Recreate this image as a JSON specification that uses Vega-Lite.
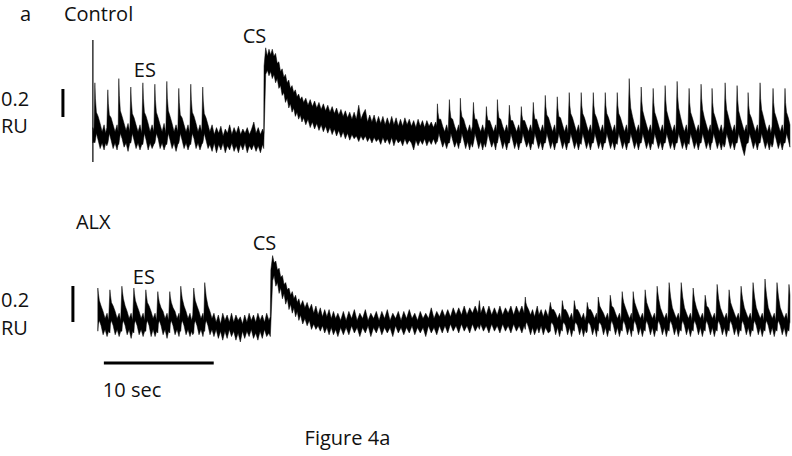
{
"$schema":"https://vega.github.io/schema/vega-lite/v6.json",
"width":792,"height":456,
"autosize":{"type":"fit","contains":"padding"},
"padding":0,
"background":"white",
"config":{"view":{"stroke":null},"text":{"font":"Open Sans","fontSize":20,"color":"#111111"}},
"datasets":{
"top":[
{"t":0,"hi":0.06,"lo":-0.05},{"t":0.1,"hi":0.03,"lo":-0.04},
{"t":0.18,"hi":0.38,"lo":-0.05},{"t":0.23,"hi":0.27,"lo":-0.03},{"t":0.32,"hi":0.17,"lo":0.02},{"t":0.48,"hi":0.14,"lo":-0.03},{"t":0.66,"hi":0.09,"lo":-0.09},{"t":0.84,"hi":0.03,"lo":-0.05},{"t":1.02,"hi":0.08,"lo":-0.1},{"t":1.16,"hi":0.02,"lo":-0.05},{"t":1.27,"hi":0.06,"lo":-0.07},
{"t":1.36,"hi":0.33,"lo":-0.05},{"t":1.41,"hi":0.23,"lo":-0.03},{"t":1.5,"hi":0.15,"lo":0.02},{"t":1.66,"hi":0.13,"lo":-0.03},{"t":1.84,"hi":0.08,"lo":-0.09},{"t":2.02,"hi":0.03,"lo":-0.05},{"t":2.2,"hi":0.08,"lo":-0.1},{"t":2.3,"hi":0.03,"lo":-0.06},
{"t":2.36,"hi":0.41,"lo":-0.06},{"t":2.41,"hi":0.29,"lo":-0.03},{"t":2.5,"hi":0.18,"lo":0.02},{"t":2.66,"hi":0.14,"lo":-0.02},{"t":2.84,"hi":0.09,"lo":-0.08},{"t":3.02,"hi":0.04,"lo":-0.05},{"t":3.2,"hi":0.09,"lo":-0.11},{"t":3.36,"hi":0.03,"lo":-0.05},
{"t":3.45,"hi":0.35,"lo":-0.05},{"t":3.5,"hi":0.25,"lo":-0.03},{"t":3.59,"hi":0.16,"lo":0.02},{"t":3.75,"hi":0.13,"lo":-0.03},{"t":3.93,"hi":0.08,"lo":-0.09},{"t":4.11,"hi":0.03,"lo":-0.05},{"t":4.29,"hi":0.08,"lo":-0.1},{"t":4.45,"hi":0.02,"lo":-0.06},
{"t":4.55,"hi":0.38,"lo":-0.06},{"t":4.6,"hi":0.27,"lo":-0.03},{"t":4.69,"hi":0.17,"lo":0.02},{"t":4.85,"hi":0.14,"lo":-0.03},{"t":5.03,"hi":0.09,"lo":-0.1},{"t":5.21,"hi":0.03,"lo":-0.05},{"t":5.39,"hi":0.08,"lo":-0.09},{"t":5.55,"hi":0.03,"lo":-0.06},
{"t":5.64,"hi":0.37,"lo":-0.05},{"t":5.69,"hi":0.26,"lo":-0.03},{"t":5.78,"hi":0.17,"lo":0.02},{"t":5.94,"hi":0.13,"lo":-0.02},{"t":6.12,"hi":0.08,"lo":-0.09},{"t":6.3,"hi":0.03,"lo":-0.05},{"t":6.48,"hi":0.09,"lo":-0.1},{"t":6.64,"hi":0.02,"lo":-0.06},
{"t":6.73,"hi":0.39,"lo":-0.06},{"t":6.78,"hi":0.27,"lo":-0.03},{"t":6.87,"hi":0.18,"lo":0.02},{"t":7.03,"hi":0.14,"lo":-0.03},{"t":7.21,"hi":0.09,"lo":-0.09},{"t":7.39,"hi":0.03,"lo":-0.05},{"t":7.57,"hi":0.08,"lo":-0.11},{"t":7.73,"hi":0.03,"lo":-0.06},
{"t":7.82,"hi":0.34,"lo":-0.05},{"t":7.87,"hi":0.24,"lo":-0.03},{"t":7.96,"hi":0.15,"lo":0.02},{"t":8.12,"hi":0.13,"lo":-0.03},{"t":8.3,"hi":0.08,"lo":-0.09},{"t":8.48,"hi":0.03,"lo":-0.05},{"t":8.66,"hi":0.08,"lo":-0.1},{"t":8.82,"hi":0.02,"lo":-0.06},
{"t":8.91,"hi":0.37,"lo":-0.06},{"t":8.96,"hi":0.26,"lo":-0.03},{"t":9.05,"hi":0.17,"lo":0.02},{"t":9.21,"hi":0.14,"lo":-0.02},{"t":9.39,"hi":0.09,"lo":-0.09},{"t":9.57,"hi":0.03,"lo":-0.05},{"t":9.75,"hi":0.08,"lo":-0.1},{"t":9.91,"hi":0.03,"lo":-0.06},
{"t":10,"hi":0.35,"lo":-0.05},{"t":10.05,"hi":0.25,"lo":-0.03},{"t":10.14,"hi":0.16,"lo":0.02},{"t":10.3,"hi":0.13,"lo":-0.03},{"t":10.48,"hi":0.08,"lo":-0.09},
{"t":10.65,"hi":0.03,"lo":-0.06},{"t":10.85,"hi":0.08,"lo":-0.11},{"t":11.05,"hi":0.01,"lo":-0.05},{"t":11.25,"hi":0.06,"lo":-0.12},{"t":11.45,"hi":0.02,"lo":-0.06},{"t":11.65,"hi":0.07,"lo":-0.1},{"t":11.85,"hi":0,"lo":-0.05},{"t":12.05,"hi":0.05,"lo":-0.12},{"t":12.25,"hi":0.02,"lo":-0.07},{"t":12.45,"hi":0.08,"lo":-0.1},{"t":12.65,"hi":0.01,"lo":-0.05},{"t":12.85,"hi":0.06,"lo":-0.11},{"t":13.05,"hi":0.02,"lo":-0.07},{"t":13.25,"hi":0.07,"lo":-0.12},{"t":13.45,"hi":0.01,"lo":-0.06},{"t":13.65,"hi":0.05,"lo":-0.1},{"t":13.85,"hi":0.02,"lo":-0.05},{"t":14.05,"hi":0.06,"lo":-0.12},{"t":14.25,"hi":0.01,"lo":-0.07},{"t":14.45,"hi":0.05,"lo":-0.1},{"t":14.65,"hi":0.1,"lo":-0.06},{"t":14.85,"hi":0.02,"lo":-0.11},{"t":15.05,"hi":0.06,"lo":-0.07},{"t":15.25,"hi":0.01,"lo":-0.12},{"t":15.45,"hi":0.05,"lo":-0.06},{"t":15.55,"hi":0.02,"lo":-0.09},
{"t":15.58,"hi":0.5,"lo":0},{"t":15.73,"hi":0.63,"lo":0.44},{"t":15.88,"hi":0.57,"lo":0.47},{"t":16.03,"hi":0.62,"lo":0.43},{"t":16.18,"hi":0.58,"lo":0.46},{"t":16.33,"hi":0.62,"lo":0.41},{"t":16.48,"hi":0.57,"lo":0.44},{"t":16.63,"hi":0.59,"lo":0.38},{"t":16.78,"hi":0.52,"lo":0.41},{"t":16.93,"hi":0.53,"lo":0.34},{"t":17.08,"hi":0.46,"lo":0.36},{"t":17.23,"hi":0.48,"lo":0.29},{"t":17.38,"hi":0.42,"lo":0.31},{"t":17.53,"hi":0.44,"lo":0.24},{"t":17.68,"hi":0.38,"lo":0.27},{"t":17.83,"hi":0.4,"lo":0.2},{"t":17.98,"hi":0.34,"lo":0.23},{"t":18.13,"hi":0.36,"lo":0.17},{"t":18.28,"hi":0.31,"lo":0.2},{"t":18.43,"hi":0.33,"lo":0.14},{"t":18.58,"hi":0.28,"lo":0.17},{"t":18.73,"hi":0.3,"lo":0.12},{"t":18.88,"hi":0.26,"lo":0.15},{"t":19.03,"hi":0.28,"lo":0.1},{"t":19.18,"hi":0.24,"lo":0.13},{"t":19.38,"hi":0.27,"lo":0.08},{"t":19.58,"hi":0.22,"lo":0.12},{"t":19.78,"hi":0.26,"lo":0.06},{"t":19.98,"hi":0.21,"lo":0.1},{"t":20.18,"hi":0.25,"lo":0.05},{"t":20.38,"hi":0.2,"lo":0.09},{"t":20.58,"hi":0.24,"lo":0.04},{"t":20.78,"hi":0.19,"lo":0.08},{"t":20.98,"hi":0.23,"lo":0.03},{"t":21.18,"hi":0.18,"lo":0.07},{"t":21.38,"hi":0.22,"lo":0.02},{"t":21.58,"hi":0.17,"lo":0.06},{"t":21.78,"hi":0.21,"lo":0.01},{"t":21.98,"hi":0.16,"lo":0.05},{"t":22.18,"hi":0.2,"lo":0},{"t":22.38,"hi":0.15,"lo":0.04},{"t":22.58,"hi":0.19,"lo":-0.01},{"t":22.78,"hi":0.14,"lo":0.03},{"t":22.98,"hi":0.18,"lo":-0.02},{"t":23.18,"hi":0.13,"lo":0.02},{"t":23.38,"hi":0.17,"lo":-0.03},{"t":23.58,"hi":0.12,"lo":0.01},{"t":23.78,"hi":0.17,"lo":-0.02},{"t":23.98,"hi":0.12,"lo":0},{"t":24.2,"hi":0.22,"lo":-0.04},{"t":24.4,"hi":0.12,"lo":0},{"t":24.6,"hi":0.16,"lo":-0.03},{"t":24.8,"hi":0.19,"lo":0},{"t":25,"hi":0.1,"lo":-0.04},{"t":25.2,"hi":0.15,"lo":-0.01},{"t":25.4,"hi":0.1,"lo":-0.05},{"t":25.6,"hi":0.15,"lo":-0.01},{"t":25.8,"hi":0.09,"lo":-0.04},{"t":26,"hi":0.14,"lo":-0.02},{"t":26.2,"hi":0.09,"lo":-0.06},{"t":26.4,"hi":0.14,"lo":-0.01},{"t":26.6,"hi":0.08,"lo":-0.05},{"t":26.8,"hi":0.13,"lo":-0.02},{"t":27,"hi":0.08,"lo":-0.06},{"t":27.2,"hi":0.14,"lo":-0.01},{"t":27.4,"hi":0.08,"lo":-0.07},{"t":27.6,"hi":0.13,"lo":-0.02},{"t":27.8,"hi":0.07,"lo":-0.05},{"t":28,"hi":0.12,"lo":-0.03},{"t":28.2,"hi":0.07,"lo":-0.07},{"t":28.4,"hi":0.13,"lo":-0.02},{"t":28.6,"hi":0.08,"lo":-0.06},{"t":28.8,"hi":0.12,"lo":-0.03},{"t":29,"hi":0.07,"lo":-0.05},{"t":29.2,"hi":0.11,"lo":-0.1},{"t":29.4,"hi":0.06,"lo":-0.03},{"t":29.6,"hi":0.12,"lo":-0.07},{"t":29.8,"hi":0.07,"lo":-0.03},{"t":30,"hi":0.11,"lo":-0.06},{"t":30.2,"hi":0.06,"lo":-0.02},{"t":30.4,"hi":0.11,"lo":-0.07},{"t":30.6,"hi":0.07,"lo":-0.03},{"t":30.8,"hi":0.1,"lo":-0.06},{"t":31,"hi":0.06,"lo":-0.02},{"t":31.2,"hi":0.1,"lo":-0.06},{"t":31.3,"hi":0.07,"lo":-0.04},
{"t":31.36,"hi":0.23,"lo":-0.04},{"t":31.41,"hi":0.17,"lo":-0.02},{"t":31.5,"hi":0.12,"lo":0.02},{"t":31.66,"hi":0.12,"lo":-0.03},{"t":31.84,"hi":0.07,"lo":-0.08},{"t":32.02,"hi":0.03,"lo":-0.04},{"t":32.2,"hi":0.08,"lo":-0.09},{"t":32.34,"hi":0.03,"lo":-0.05},
{"t":32.45,"hi":0.26,"lo":-0.05},{"t":32.5,"hi":0.19,"lo":-0.03},{"t":32.59,"hi":0.13,"lo":0.02},{"t":32.75,"hi":0.12,"lo":-0.03},{"t":32.93,"hi":0.07,"lo":-0.08},{"t":33.11,"hi":0.03,"lo":-0.04},{"t":33.29,"hi":0.08,"lo":-0.09},{"t":33.38,"hi":0.03,"lo":-0.05},
{"t":33.45,"hi":0.27,"lo":-0.05},{"t":33.5,"hi":0.19,"lo":-0.03},{"t":33.59,"hi":0.14,"lo":0.02},{"t":33.75,"hi":0.12,"lo":-0.03},{"t":33.93,"hi":0.07,"lo":-0.09},{"t":34.11,"hi":0.03,"lo":-0.04},{"t":34.29,"hi":0.08,"lo":-0.1},{"t":34.43,"hi":0.03,"lo":-0.05},{"t":34.55,"hi":0.07,"lo":-0.08},
{"t":34.64,"hi":0.24,"lo":-0.05},{"t":34.69,"hi":0.17,"lo":-0.03},{"t":34.78,"hi":0.12,"lo":0.02},{"t":34.94,"hi":0.12,"lo":-0.03},{"t":35.12,"hi":0.07,"lo":-0.09},{"t":35.3,"hi":0.03,"lo":-0.04},{"t":35.48,"hi":0.08,"lo":-0.1},{"t":35.62,"hi":0.03,"lo":-0.05},{"t":35.74,"hi":0.07,"lo":-0.08},
{"t":35.82,"hi":0.21,"lo":-0.05},{"t":35.87,"hi":0.15,"lo":-0.03},{"t":35.96,"hi":0.11,"lo":0.02},{"t":36.12,"hi":0.11,"lo":-0.03},{"t":36.3,"hi":0.07,"lo":-0.08},{"t":36.48,"hi":0.03,"lo":-0.04},{"t":36.66,"hi":0.08,"lo":-0.1},{"t":36.76,"hi":0.03,"lo":-0.05},
{"t":36.82,"hi":0.26,"lo":-0.05},{"t":36.87,"hi":0.19,"lo":-0.03},{"t":36.96,"hi":0.13,"lo":0.02},{"t":37.12,"hi":0.12,"lo":-0.03},{"t":37.3,"hi":0.07,"lo":-0.09},{"t":37.48,"hi":0.03,"lo":-0.04},{"t":37.66,"hi":0.08,"lo":-0.1},{"t":37.8,"hi":0.03,"lo":-0.05},
{"t":37.91,"hi":0.22,"lo":-0.05},{"t":37.96,"hi":0.16,"lo":-0.03},{"t":38.05,"hi":0.11,"lo":0.02},{"t":38.21,"hi":0.11,"lo":-0.03},{"t":38.39,"hi":0.07,"lo":-0.09},{"t":38.57,"hi":0.03,"lo":-0.04},{"t":38.75,"hi":0.08,"lo":-0.1},{"t":38.89,"hi":0.03,"lo":-0.05},
{"t":39,"hi":0.21,"lo":-0.05},{"t":39.05,"hi":0.15,"lo":-0.03},{"t":39.14,"hi":0.11,"lo":0.02},{"t":39.3,"hi":0.11,"lo":-0.03},{"t":39.48,"hi":0.07,"lo":-0.08},{"t":39.66,"hi":0.03,"lo":-0.04},{"t":39.84,"hi":0.08,"lo":-0.1},{"t":39.98,"hi":0.03,"lo":-0.05},
{"t":40.09,"hi":0.24,"lo":-0.06},{"t":40.14,"hi":0.17,"lo":-0.03},{"t":40.23,"hi":0.12,"lo":0.02},{"t":40.39,"hi":0.12,"lo":-0.03},{"t":40.57,"hi":0.07,"lo":-0.09},{"t":40.75,"hi":0.03,"lo":-0.04},{"t":40.93,"hi":0.08,"lo":-0.1},{"t":41.07,"hi":0.03,"lo":-0.05},
{"t":41.18,"hi":0.29,"lo":-0.05},{"t":41.23,"hi":0.21,"lo":-0.03},{"t":41.32,"hi":0.15,"lo":0.02},{"t":41.48,"hi":0.13,"lo":-0.03},{"t":41.66,"hi":0.08,"lo":-0.09},{"t":41.84,"hi":0.03,"lo":-0.04},{"t":42.02,"hi":0.08,"lo":-0.1},{"t":42.16,"hi":0.02,"lo":-0.05},
{"t":42.27,"hi":0.28,"lo":-0.05},{"t":42.32,"hi":0.2,"lo":-0.03},{"t":42.41,"hi":0.14,"lo":0.02},{"t":42.57,"hi":0.13,"lo":-0.03},{"t":42.75,"hi":0.08,"lo":-0.09},{"t":42.93,"hi":0.03,"lo":-0.04},{"t":43.11,"hi":0.08,"lo":-0.1},{"t":43.25,"hi":0.02,"lo":-0.05},
{"t":43.36,"hi":0.31,"lo":-0.05},{"t":43.41,"hi":0.22,"lo":-0.03},{"t":43.5,"hi":0.16,"lo":0.02},{"t":43.66,"hi":0.13,"lo":-0.03},{"t":43.84,"hi":0.08,"lo":-0.09},{"t":44.02,"hi":0.03,"lo":-0.04},{"t":44.2,"hi":0.08,"lo":-0.1},{"t":44.34,"hi":0.02,"lo":-0.05},
{"t":44.45,"hi":0.31,"lo":-0.06},{"t":44.5,"hi":0.22,"lo":-0.03},{"t":44.59,"hi":0.16,"lo":0.02},{"t":44.75,"hi":0.13,"lo":-0.03},{"t":44.93,"hi":0.08,"lo":-0.09},{"t":45.11,"hi":0.03,"lo":-0.04},{"t":45.29,"hi":0.08,"lo":-0.1},{"t":45.43,"hi":0.02,"lo":-0.05},
{"t":45.55,"hi":0.31,"lo":-0.05},{"t":45.6,"hi":0.22,"lo":-0.03},{"t":45.69,"hi":0.16,"lo":0.02},{"t":45.85,"hi":0.13,"lo":-0.03},{"t":46.03,"hi":0.08,"lo":-0.09},{"t":46.21,"hi":0.03,"lo":-0.04},{"t":46.39,"hi":0.08,"lo":-0.1},{"t":46.53,"hi":0.02,"lo":-0.05},
{"t":46.64,"hi":0.31,"lo":-0.05},{"t":46.69,"hi":0.22,"lo":-0.03},{"t":46.78,"hi":0.16,"lo":0.02},{"t":46.94,"hi":0.13,"lo":-0.03},{"t":47.12,"hi":0.08,"lo":-0.09},{"t":47.3,"hi":0.03,"lo":-0.04},{"t":47.48,"hi":0.08,"lo":-0.1},{"t":47.62,"hi":0.02,"lo":-0.05},
{"t":47.73,"hi":0.31,"lo":-0.06},{"t":47.78,"hi":0.22,"lo":-0.03},{"t":47.87,"hi":0.16,"lo":0.02},{"t":48.03,"hi":0.13,"lo":-0.03},{"t":48.21,"hi":0.08,"lo":-0.09},{"t":48.39,"hi":0.03,"lo":-0.04},{"t":48.57,"hi":0.08,"lo":-0.1},{"t":48.71,"hi":0.02,"lo":-0.05},
{"t":48.82,"hi":0.41,"lo":-0.05},{"t":48.87,"hi":0.3,"lo":-0.03},{"t":48.96,"hi":0.2,"lo":0.02},{"t":49.12,"hi":0.14,"lo":-0.03},{"t":49.3,"hi":0.08,"lo":-0.09},{"t":49.48,"hi":0.03,"lo":-0.04},{"t":49.66,"hi":0.08,"lo":-0.1},{"t":49.8,"hi":0.02,"lo":-0.05},
{"t":49.91,"hi":0.35,"lo":-0.05},{"t":49.96,"hi":0.25,"lo":-0.03},{"t":50.05,"hi":0.18,"lo":0.02},{"t":50.21,"hi":0.13,"lo":-0.03},{"t":50.39,"hi":0.08,"lo":-0.09},{"t":50.57,"hi":0.03,"lo":-0.04},{"t":50.75,"hi":0.08,"lo":-0.1},{"t":50.89,"hi":0.02,"lo":-0.05},
{"t":51,"hi":0.34,"lo":-0.06},{"t":51.05,"hi":0.24,"lo":-0.03},{"t":51.14,"hi":0.17,"lo":0.02},{"t":51.3,"hi":0.13,"lo":-0.03},{"t":51.48,"hi":0.08,"lo":-0.09},{"t":51.66,"hi":0.03,"lo":-0.04},{"t":51.84,"hi":0.08,"lo":-0.1},{"t":51.98,"hi":0.02,"lo":-0.05},
{"t":52.09,"hi":0.36,"lo":-0.05},{"t":52.14,"hi":0.26,"lo":-0.03},{"t":52.23,"hi":0.18,"lo":0.02},{"t":52.39,"hi":0.13,"lo":-0.03},{"t":52.57,"hi":0.08,"lo":-0.09},{"t":52.75,"hi":0.03,"lo":-0.04},{"t":52.93,"hi":0.08,"lo":-0.1},{"t":53.07,"hi":0.02,"lo":-0.05},
{"t":53.18,"hi":0.39,"lo":-0.05},{"t":53.23,"hi":0.28,"lo":-0.03},{"t":53.32,"hi":0.2,"lo":0.02},{"t":53.48,"hi":0.14,"lo":-0.03},{"t":53.66,"hi":0.08,"lo":-0.09},{"t":53.84,"hi":0.03,"lo":-0.04},{"t":54.02,"hi":0.08,"lo":-0.1},{"t":54.16,"hi":0.02,"lo":-0.05},
{"t":54.27,"hi":0.34,"lo":-0.06},{"t":54.32,"hi":0.24,"lo":-0.03},{"t":54.41,"hi":0.17,"lo":0.02},{"t":54.57,"hi":0.13,"lo":-0.03},{"t":54.75,"hi":0.08,"lo":-0.09},{"t":54.93,"hi":0.03,"lo":-0.04},{"t":55.11,"hi":0.08,"lo":-0.1},{"t":55.25,"hi":0.02,"lo":-0.05},
{"t":55.36,"hi":0.37,"lo":-0.05},{"t":55.41,"hi":0.27,"lo":-0.03},{"t":55.5,"hi":0.19,"lo":0.02},{"t":55.66,"hi":0.13,"lo":-0.03},{"t":55.84,"hi":0.08,"lo":-0.09},{"t":56.02,"hi":0.03,"lo":-0.04},{"t":56.2,"hi":0.08,"lo":-0.1},{"t":56.3,"hi":0.02,"lo":-0.05},
{"t":56.36,"hi":0.34,"lo":-0.05},{"t":56.41,"hi":0.24,"lo":-0.03},{"t":56.5,"hi":0.17,"lo":0.02},{"t":56.66,"hi":0.13,"lo":-0.03},{"t":56.84,"hi":0.08,"lo":-0.09},{"t":57.02,"hi":0.03,"lo":-0.04},{"t":57.2,"hi":0.08,"lo":-0.1},{"t":57.34,"hi":0.02,"lo":-0.05},{"t":57.46,"hi":0.07,"lo":-0.08},
{"t":57.55,"hi":0.38,"lo":-0.06},{"t":57.6,"hi":0.27,"lo":-0.03},{"t":57.69,"hi":0.19,"lo":0.02},{"t":57.85,"hi":0.14,"lo":-0.03},{"t":58.03,"hi":0.08,"lo":-0.09},{"t":58.21,"hi":0.03,"lo":-0.04},{"t":58.39,"hi":0.08,"lo":-0.1},{"t":58.53,"hi":0.02,"lo":-0.05},
{"t":58.64,"hi":0.36,"lo":-0.05},{"t":58.69,"hi":0.26,"lo":-0.03},{"t":58.78,"hi":0.18,"lo":0.02},{"t":58.94,"hi":0.13,"lo":-0.03},{"t":59.12,"hi":0.08,"lo":-0.09},{"t":59.3,"hi":0.03,"lo":-0.14},{"t":59.48,"hi":0.08,"lo":-0.06},{"t":59.58,"hi":0.02,"lo":-0.05},
{"t":59.64,"hi":0.31,"lo":-0.05},{"t":59.69,"hi":0.22,"lo":-0.03},{"t":59.78,"hi":0.16,"lo":0.02},{"t":59.94,"hi":0.13,"lo":-0.03},{"t":60.12,"hi":0.08,"lo":-0.09},{"t":60.3,"hi":0.03,"lo":-0.04},{"t":60.48,"hi":0.08,"lo":-0.1},{"t":60.62,"hi":0.02,"lo":-0.05},
{"t":60.73,"hi":0.38,"lo":-0.05},{"t":60.78,"hi":0.27,"lo":-0.03},{"t":60.87,"hi":0.19,"lo":0.02},{"t":61.03,"hi":0.14,"lo":-0.03},{"t":61.21,"hi":0.08,"lo":-0.09},{"t":61.39,"hi":0.03,"lo":-0.04},{"t":61.57,"hi":0.08,"lo":-0.1},{"t":61.71,"hi":0.02,"lo":-0.05},{"t":61.82,"hi":0.07,"lo":-0.08},
{"t":61.91,"hi":0.34,"lo":-0.06},{"t":61.96,"hi":0.24,"lo":-0.03},{"t":62.05,"hi":0.17,"lo":0.02},{"t":62.21,"hi":0.13,"lo":-0.03},{"t":62.39,"hi":0.08,"lo":-0.09},{"t":62.57,"hi":0.03,"lo":-0.04},{"t":62.75,"hi":0.08,"lo":-0.1},{"t":62.89,"hi":0.02,"lo":-0.05},
{"t":63,"hi":0.34,"lo":-0.05},{"t":63.05,"hi":0.24,"lo":-0.03},{"t":63.14,"hi":0.17,"lo":0.02},{"t":63.3,"hi":0.13,"lo":-0.03},{"t":63.45,"hi":0.08,"lo":-0.08}
],
"bot":[
{"t":0.45,"hi":0.2,"lo":-0.04},{"t":0.5,"hi":0.17,"lo":0},{"t":0.59,"hi":0.13,"lo":0.02},{"t":0.75,"hi":0.1,"lo":-0.01},{"t":0.93,"hi":0.07,"lo":-0.06},{"t":1.11,"hi":0.03,"lo":-0.03},{"t":1.29,"hi":0.06,"lo":-0.07},{"t":1.43,"hi":0.02,"lo":-0.04},
{"t":1.55,"hi":0.19,"lo":-0.05},{"t":1.6,"hi":0.16,"lo":0},{"t":1.69,"hi":0.12,"lo":0.02},{"t":1.85,"hi":0.1,"lo":-0.01},{"t":2.03,"hi":0.07,"lo":-0.06},{"t":2.21,"hi":0.03,"lo":-0.03},{"t":2.39,"hi":0.06,"lo":-0.07},{"t":2.53,"hi":0.02,"lo":-0.04},
{"t":2.64,"hi":0.21,"lo":-0.04},{"t":2.69,"hi":0.18,"lo":0},{"t":2.78,"hi":0.14,"lo":0.02},{"t":2.94,"hi":0.1,"lo":-0.01},{"t":3.12,"hi":0.07,"lo":-0.06},{"t":3.3,"hi":0.03,"lo":-0.03},{"t":3.48,"hi":0.06,"lo":-0.08},{"t":3.62,"hi":0.02,"lo":-0.04},
{"t":3.73,"hi":0.2,"lo":-0.05},{"t":3.78,"hi":0.17,"lo":0},{"t":3.87,"hi":0.13,"lo":0.02},{"t":4.03,"hi":0.1,"lo":-0.01},{"t":4.21,"hi":0.07,"lo":-0.06},{"t":4.39,"hi":0.03,"lo":-0.03},{"t":4.57,"hi":0.06,"lo":-0.07},{"t":4.71,"hi":0.02,"lo":-0.04},
{"t":4.82,"hi":0.19,"lo":-0.04},{"t":4.87,"hi":0.16,"lo":0},{"t":4.96,"hi":0.12,"lo":0.02},{"t":5.12,"hi":0.1,"lo":-0.01},{"t":5.3,"hi":0.07,"lo":-0.07},{"t":5.48,"hi":0.03,"lo":-0.03},{"t":5.66,"hi":0.06,"lo":-0.07},{"t":5.8,"hi":0.02,"lo":-0.04},
{"t":5.91,"hi":0.18,"lo":-0.05},{"t":5.96,"hi":0.15,"lo":0},{"t":6.05,"hi":0.12,"lo":0.02},{"t":6.21,"hi":0.09,"lo":-0.01},{"t":6.39,"hi":0.07,"lo":-0.06},{"t":6.57,"hi":0.03,"lo":-0.03},{"t":6.75,"hi":0.06,"lo":-0.08},{"t":6.89,"hi":0.02,"lo":-0.04},
{"t":7,"hi":0.18,"lo":-0.05},{"t":7.05,"hi":0.15,"lo":0},{"t":7.14,"hi":0.12,"lo":0.02},{"t":7.3,"hi":0.09,"lo":-0.01},{"t":7.48,"hi":0.07,"lo":-0.06},{"t":7.66,"hi":0.03,"lo":-0.03},{"t":7.84,"hi":0.06,"lo":-0.07},{"t":7.92,"hi":0.02,"lo":-0.04},
{"t":8,"hi":0.21,"lo":-0.04},{"t":8.05,"hi":0.18,"lo":0},{"t":8.14,"hi":0.14,"lo":0.02},{"t":8.3,"hi":0.1,"lo":-0.01},{"t":8.48,"hi":0.07,"lo":-0.06},{"t":8.66,"hi":0.03,"lo":-0.03},{"t":8.84,"hi":0.06,"lo":-0.07},{"t":8.98,"hi":0.02,"lo":-0.04},{"t":9.09,"hi":0.05,"lo":-0.06},
{"t":9.18,"hi":0.2,"lo":-0.05},{"t":9.23,"hi":0.17,"lo":0},{"t":9.32,"hi":0.13,"lo":0.02},{"t":9.48,"hi":0.1,"lo":-0.01},{"t":9.66,"hi":0.07,"lo":-0.06},{"t":9.84,"hi":0.03,"lo":-0.03},{"t":10.02,"hi":0.06,"lo":-0.07},{"t":10.1,"hi":0.02,"lo":-0.04},
{"t":10.18,"hi":0.23,"lo":-0.04},{"t":10.23,"hi":0.2,"lo":0},{"t":10.32,"hi":0.15,"lo":0.02},{"t":10.48,"hi":0.1,"lo":-0.01},{"t":10.66,"hi":0.07,"lo":-0.06},{"t":10.84,"hi":0.03,"lo":-0.03},
{"t":11.02,"hi":0.06,"lo":-0.07},{"t":11.22,"hi":0.01,"lo":-0.03},{"t":11.42,"hi":0.05,"lo":-0.08},{"t":11.62,"hi":0,"lo":-0.04},{"t":11.82,"hi":0.06,"lo":-0.09},{"t":12.02,"hi":0.02,"lo":-0.04},{"t":12.22,"hi":0.05,"lo":-0.08},{"t":12.42,"hi":0.01,"lo":-0.03},{"t":12.62,"hi":0.06,"lo":-0.07},{"t":12.82,"hi":0.01,"lo":-0.04},{"t":13.02,"hi":0.05,"lo":-0.09},{"t":13.22,"hi":0.02,"lo":-0.05},{"t":13.42,"hi":0.04,"lo":-0.1},{"t":13.62,"hi":0,"lo":-0.04},{"t":13.82,"hi":0.05,"lo":-0.08},{"t":14.02,"hi":0.01,"lo":-0.04},{"t":14.22,"hi":0.06,"lo":-0.07},{"t":14.42,"hi":0.02,"lo":-0.03},{"t":14.62,"hi":0.05,"lo":-0.08},{"t":14.82,"hi":0.01,"lo":-0.05},{"t":15.02,"hi":0.06,"lo":-0.09},{"t":15.22,"hi":0.02,"lo":-0.04},{"t":15.42,"hi":0.05,"lo":-0.08},{"t":15.62,"hi":0.01,"lo":-0.03},{"t":15.82,"hi":0.06,"lo":-0.07},{"t":16.02,"hi":0.02,"lo":-0.05},{"t":16.15,"hi":0.04,"lo":-0.07},
{"t":16.2,"hi":0.3,"lo":0},{"t":16.36,"hi":0.38,"lo":0.24},{"t":16.5,"hi":0.34,"lo":0.27},{"t":16.65,"hi":0.35,"lo":0.21},{"t":16.8,"hi":0.3,"lo":0.23},{"t":16.95,"hi":0.31,"lo":0.17},{"t":17.1,"hi":0.26,"lo":0.2},{"t":17.25,"hi":0.27,"lo":0.14},{"t":17.4,"hi":0.22,"lo":0.17},{"t":17.55,"hi":0.23,"lo":0.11},{"t":17.7,"hi":0.19,"lo":0.14},{"t":17.85,"hi":0.2,"lo":0.08},{"t":18,"hi":0.16,"lo":0.11},{"t":18.15,"hi":0.18,"lo":0.06},{"t":18.3,"hi":0.14,"lo":0.09},{"t":18.45,"hi":0.16,"lo":0.04},{"t":18.6,"hi":0.12,"lo":0.07},{"t":18.75,"hi":0.14,"lo":0.02},{"t":18.9,"hi":0.1,"lo":0.05},{"t":19.1,"hi":0.13,"lo":0},{"t":19.3,"hi":0.09,"lo":0.03},{"t":19.5,"hi":0.12,"lo":-0.01},{"t":19.7,"hi":0.08,"lo":0.02},{"t":19.9,"hi":0.11,"lo":-0.03},{"t":20.1,"hi":0.06,"lo":0},{"t":20.3,"hi":0.1,"lo":-0.03},{"t":20.5,"hi":0.05,"lo":-0.01},{"t":20.7,"hi":0.09,"lo":-0.04},{"t":20.9,"hi":0.04,"lo":-0.01},{"t":21.1,"hi":0.08,"lo":-0.05},{"t":21.3,"hi":0.04,"lo":-0.02},{"t":21.5,"hi":0.08,"lo":-0.06},{"t":21.7,"hi":0.03,"lo":-0.02},{"t":21.9,"hi":0.07,"lo":-0.06},{"t":22.1,"hi":0.03,"lo":-0.03},{"t":22.3,"hi":0.06,"lo":-0.07},
{"t":22.55,"hi":0.02,"lo":-0.02},{"t":22.8,"hi":0.07,"lo":-0.06},{"t":23.05,"hi":0.02,"lo":-0.02},{"t":23.3,"hi":0.07,"lo":-0.06},{"t":23.55,"hi":0.03,"lo":-0.01},{"t":23.8,"hi":0.08,"lo":-0.05},{"t":24.05,"hi":0.02,"lo":-0.02},{"t":24.3,"hi":0.06,"lo":-0.07},{"t":24.55,"hi":0.03,"lo":-0.02},{"t":24.8,"hi":0.08,"lo":-0.05},{"t":25.05,"hi":0.02,"lo":-0.01},{"t":25.3,"hi":0.06,"lo":-0.07},{"t":25.55,"hi":0.03,"lo":-0.02},{"t":25.8,"hi":0.07,"lo":-0.05},{"t":26.05,"hi":0.02,"lo":-0.01},{"t":26.3,"hi":0.07,"lo":-0.06},{"t":26.55,"hi":0.03,"lo":-0.02},{"t":26.8,"hi":0.08,"lo":-0.05},{"t":27.05,"hi":0.02,"lo":-0.02},{"t":27.3,"hi":0.06,"lo":-0.07},{"t":27.55,"hi":0.03,"lo":-0.01},{"t":27.8,"hi":0.07,"lo":-0.05},{"t":28.05,"hi":0.02,"lo":-0.02},{"t":28.3,"hi":0.07,"lo":-0.06},{"t":28.55,"hi":0.03,"lo":-0.02},{"t":28.8,"hi":0.08,"lo":-0.05},{"t":29.05,"hi":0.03,"lo":-0.01},{"t":29.3,"hi":0.06,"lo":-0.06},{"t":29.55,"hi":0.02,"lo":-0.02},{"t":29.8,"hi":0.07,"lo":-0.05},{"t":30.05,"hi":0.03,"lo":-0.02},{"t":30.3,"hi":0.06,"lo":-0.07},{"t":30.55,"hi":0.03,"lo":-0.01},{"t":30.8,"hi":0.09,"lo":-0.05},{"t":31.05,"hi":0.03,"lo":-0.02},{"t":31.3,"hi":0.07,"lo":-0.06},{"t":31.55,"hi":0.04,"lo":-0.01},{"t":31.8,"hi":0.08,"lo":-0.05},{"t":32.05,"hi":0.04,"lo":-0.01},{"t":32.3,"hi":0.08,"lo":-0.05},{"t":32.55,"hi":0.04,"lo":0},{"t":32.8,"hi":0.09,"lo":-0.04},{"t":33.05,"hi":0.05,"lo":-0.01},{"t":33.3,"hi":0.09,"lo":-0.05},{"t":33.55,"hi":0.05,"lo":0},{"t":33.8,"hi":0.1,"lo":-0.04},{"t":34.05,"hi":0.05,"lo":-0.01},{"t":34.3,"hi":0.09,"lo":-0.05},{"t":34.55,"hi":0.06,"lo":0},{"t":34.8,"hi":0.1,"lo":-0.04},{"t":35.05,"hi":0.06,"lo":-0.01},{"t":35.18,"hi":0.13,"lo":-0.03},{"t":35.3,"hi":0.06,"lo":0},{"t":35.55,"hi":0.1,"lo":-0.04},{"t":35.8,"hi":0.05,"lo":-0.01},{"t":36.05,"hi":0.1,"lo":-0.05},{"t":36.3,"hi":0.05,"lo":0},{"t":36.55,"hi":0.09,"lo":-0.04},{"t":36.8,"hi":0.05,"lo":-0.01},{"t":37.05,"hi":0.1,"lo":-0.05},{"t":37.3,"hi":0.05,"lo":0},{"t":37.55,"hi":0.09,"lo":-0.04},{"t":37.8,"hi":0.06,"lo":-0.01},{"t":38.05,"hi":0.1,"lo":-0.05},{"t":38.3,"hi":0.05,"lo":0},{"t":38.55,"hi":0.1,"lo":-0.04},{"t":38.8,"hi":0.06,"lo":-0.01},{"t":39.05,"hi":0.1,"lo":-0.05},{"t":39.25,"hi":0.06,"lo":-0.01},
{"t":39.36,"hi":0.15,"lo":-0.03},{"t":39.41,"hi":0.12,"lo":0},{"t":39.5,"hi":0.1,"lo":0.01},{"t":39.66,"hi":0.08,"lo":-0.02},{"t":39.84,"hi":0.05,"lo":-0.06},{"t":40.02,"hi":0.08,"lo":-0.02},{"t":40.2,"hi":0.04,"lo":-0.06},{"t":40.45,"hi":0.1,"lo":-0.02},{"t":40.6,"hi":0.05,"lo":-0.05},{"t":40.8,"hi":0.08,"lo":-0.01},{"t":41,"hi":0.04,"lo":-0.06},{"t":41.2,"hi":0.08,"lo":-0.02},{"t":41.45,"hi":0.04,"lo":-0.05},
{"t":41.64,"hi":0.12,"lo":-0.04},{"t":41.69,"hi":0.1,"lo":0},{"t":41.78,"hi":0.08,"lo":0.01},{"t":41.94,"hi":0.08,"lo":-0.01},{"t":42.12,"hi":0.06,"lo":-0.06},{"t":42.3,"hi":0.03,"lo":-0.02},{"t":42.48,"hi":0.06,"lo":-0.07},{"t":42.62,"hi":0.02,"lo":-0.03},
{"t":42.73,"hi":0.13,"lo":-0.04},{"t":42.78,"hi":0.11,"lo":0},{"t":42.87,"hi":0.08,"lo":0.01},{"t":43.03,"hi":0.08,"lo":-0.01},{"t":43.21,"hi":0.06,"lo":-0.06},{"t":43.39,"hi":0.03,"lo":-0.02},{"t":43.57,"hi":0.06,"lo":-0.07},{"t":43.71,"hi":0.02,"lo":-0.03},
{"t":43.82,"hi":0.13,"lo":-0.04},{"t":43.87,"hi":0.11,"lo":0},{"t":43.96,"hi":0.08,"lo":0.01},{"t":44.12,"hi":0.08,"lo":-0.01},{"t":44.3,"hi":0.06,"lo":-0.06},{"t":44.48,"hi":0.03,"lo":-0.02},{"t":44.66,"hi":0.06,"lo":-0.07},{"t":44.8,"hi":0.02,"lo":-0.03},{"t":44.92,"hi":0.05,"lo":-0.05},
{"t":45,"hi":0.12,"lo":-0.04},{"t":45.05,"hi":0.1,"lo":0},{"t":45.14,"hi":0.08,"lo":0.01},{"t":45.3,"hi":0.08,"lo":-0.01},{"t":45.48,"hi":0.06,"lo":-0.06},{"t":45.66,"hi":0.03,"lo":-0.02},{"t":45.84,"hi":0.06,"lo":-0.07},{"t":45.92,"hi":0.02,"lo":-0.03},
{"t":46,"hi":0.15,"lo":-0.04},{"t":46.05,"hi":0.13,"lo":0},{"t":46.14,"hi":0.1,"lo":0.01},{"t":46.3,"hi":0.08,"lo":-0.01},{"t":46.48,"hi":0.06,"lo":-0.06},{"t":46.66,"hi":0.03,"lo":-0.02},{"t":46.84,"hi":0.06,"lo":-0.07},{"t":46.98,"hi":0.02,"lo":-0.03},
{"t":47.09,"hi":0.16,"lo":-0.04},{"t":47.14,"hi":0.14,"lo":0},{"t":47.23,"hi":0.1,"lo":0.02},{"t":47.39,"hi":0.09,"lo":-0.01},{"t":47.57,"hi":0.06,"lo":-0.06},{"t":47.75,"hi":0.03,"lo":-0.02},{"t":47.93,"hi":0.06,"lo":-0.07},{"t":48.07,"hi":0.02,"lo":-0.03},
{"t":48.18,"hi":0.18,"lo":-0.04},{"t":48.23,"hi":0.15,"lo":0},{"t":48.32,"hi":0.12,"lo":0.02},{"t":48.48,"hi":0.09,"lo":-0.01},{"t":48.66,"hi":0.06,"lo":-0.06},{"t":48.84,"hi":0.03,"lo":-0.02},{"t":49.02,"hi":0.06,"lo":-0.07},{"t":49.1,"hi":0.02,"lo":-0.03},
{"t":49.18,"hi":0.18,"lo":-0.04},{"t":49.23,"hi":0.15,"lo":0},{"t":49.32,"hi":0.12,"lo":0.02},{"t":49.48,"hi":0.09,"lo":-0.01},{"t":49.66,"hi":0.06,"lo":-0.06},{"t":49.84,"hi":0.03,"lo":-0.02},{"t":50.02,"hi":0.06,"lo":-0.07},{"t":50.16,"hi":0.02,"lo":-0.03},
{"t":50.27,"hi":0.19,"lo":-0.04},{"t":50.32,"hi":0.16,"lo":0},{"t":50.41,"hi":0.12,"lo":0.02},{"t":50.57,"hi":0.09,"lo":-0.01},{"t":50.75,"hi":0.06,"lo":-0.06},{"t":50.93,"hi":0.03,"lo":-0.02},{"t":51.11,"hi":0.06,"lo":-0.07},{"t":51.25,"hi":0.02,"lo":-0.03},
{"t":51.36,"hi":0.21,"lo":-0.04},{"t":51.41,"hi":0.18,"lo":0},{"t":51.5,"hi":0.14,"lo":0.02},{"t":51.66,"hi":0.09,"lo":-0.01},{"t":51.84,"hi":0.06,"lo":-0.06},{"t":52.02,"hi":0.03,"lo":-0.02},{"t":52.2,"hi":0.06,"lo":-0.07},{"t":52.34,"hi":0.02,"lo":-0.03},
{"t":52.45,"hi":0.23,"lo":-0.04},{"t":52.5,"hi":0.2,"lo":0},{"t":52.59,"hi":0.15,"lo":0.02},{"t":52.75,"hi":0.09,"lo":-0.01},{"t":52.93,"hi":0.06,"lo":-0.06},{"t":53.11,"hi":0.03,"lo":-0.02},{"t":53.29,"hi":0.06,"lo":-0.07},{"t":53.43,"hi":0.02,"lo":-0.03},
{"t":53.55,"hi":0.23,"lo":-0.04},{"t":53.6,"hi":0.2,"lo":0},{"t":53.69,"hi":0.15,"lo":0.02},{"t":53.85,"hi":0.09,"lo":-0.01},{"t":54.03,"hi":0.06,"lo":-0.06},{"t":54.21,"hi":0.03,"lo":-0.02},{"t":54.39,"hi":0.06,"lo":-0.07},{"t":54.53,"hi":0.02,"lo":-0.03},
{"t":54.64,"hi":0.2,"lo":-0.04},{"t":54.69,"hi":0.17,"lo":0},{"t":54.78,"hi":0.13,"lo":0.02},{"t":54.94,"hi":0.09,"lo":-0.01},{"t":55.12,"hi":0.06,"lo":-0.06},{"t":55.3,"hi":0.03,"lo":-0.02},{"t":55.48,"hi":0.06,"lo":-0.07},{"t":55.62,"hi":0.02,"lo":-0.03},
{"t":55.73,"hi":0.16,"lo":-0.04},{"t":55.78,"hi":0.14,"lo":0},{"t":55.87,"hi":0.1,"lo":0.02},{"t":56.03,"hi":0.09,"lo":-0.01},{"t":56.21,"hi":0.06,"lo":-0.06},{"t":56.39,"hi":0.03,"lo":-0.02},{"t":56.57,"hi":0.06,"lo":-0.07},{"t":56.71,"hi":0.02,"lo":-0.03},
{"t":56.82,"hi":0.22,"lo":-0.04},{"t":56.87,"hi":0.19,"lo":0},{"t":56.96,"hi":0.14,"lo":0.02},{"t":57.12,"hi":0.09,"lo":-0.01},{"t":57.3,"hi":0.06,"lo":-0.06},{"t":57.48,"hi":0.03,"lo":-0.02},{"t":57.66,"hi":0.06,"lo":-0.07},{"t":57.8,"hi":0.02,"lo":-0.03},
{"t":57.91,"hi":0.19,"lo":-0.04},{"t":57.96,"hi":0.16,"lo":0},{"t":58.05,"hi":0.12,"lo":0.02},{"t":58.21,"hi":0.09,"lo":-0.01},{"t":58.39,"hi":0.06,"lo":-0.06},{"t":58.57,"hi":0.03,"lo":-0.02},{"t":58.75,"hi":0.06,"lo":-0.07},{"t":58.89,"hi":0.02,"lo":-0.03},
{"t":59,"hi":0.21,"lo":-0.04},{"t":59.05,"hi":0.18,"lo":0},{"t":59.14,"hi":0.14,"lo":0.02},{"t":59.3,"hi":0.09,"lo":-0.01},{"t":59.48,"hi":0.06,"lo":-0.06},{"t":59.66,"hi":0.03,"lo":-0.02},{"t":59.84,"hi":0.06,"lo":-0.07},{"t":59.98,"hi":0.02,"lo":-0.03},
{"t":60.09,"hi":0.23,"lo":-0.04},{"t":60.14,"hi":0.2,"lo":0},{"t":60.23,"hi":0.15,"lo":0.02},{"t":60.39,"hi":0.09,"lo":-0.01},{"t":60.57,"hi":0.06,"lo":-0.06},{"t":60.75,"hi":0.03,"lo":-0.02},{"t":60.93,"hi":0.06,"lo":-0.07},{"t":61.07,"hi":0.02,"lo":-0.03},
{"t":61.18,"hi":0.25,"lo":-0.04},{"t":61.23,"hi":0.21,"lo":0},{"t":61.32,"hi":0.16,"lo":0.02},{"t":61.48,"hi":0.09,"lo":-0.01},{"t":61.66,"hi":0.06,"lo":-0.06},{"t":61.84,"hi":0.03,"lo":-0.02},{"t":62.02,"hi":0.06,"lo":-0.07},{"t":62.16,"hi":0.02,"lo":-0.03},
{"t":62.27,"hi":0.23,"lo":-0.04},{"t":62.32,"hi":0.2,"lo":0},{"t":62.41,"hi":0.15,"lo":0.02},{"t":62.57,"hi":0.09,"lo":-0.01},{"t":62.75,"hi":0.06,"lo":-0.06},{"t":62.93,"hi":0.03,"lo":-0.02},{"t":63.11,"hi":0.06,"lo":-0.07},{"t":63.25,"hi":0.02,"lo":-0.03},
{"t":63.36,"hi":0.22,"lo":-0.04},{"t":63.41,"hi":0.19,"lo":0},{"t":63.45,"hi":0.16,"lo":0.01}
],
"lab":[
{"panel":"top","t":-6.636,"v":0.8214,"s":"a"},
{"panel":"top","t":-2.636,"v":0.8214,"s":"Control"},
{"panel":"top","t":13.636,"v":0.6643,"s":"CS"},
{"panel":"top","t":3.727,"v":0.4214,"s":"ES"},
{"panel":"top","t":-8.364,"v":0.2143,"s":"0.2"},
{"panel":"top","t":-8.364,"v":0.0214,"s":"RU"},
{"panel":"bot","t":-1.545,"v":0.5278,"s":"ALX"},
{"panel":"bot","t":14.545,"v":0.4111,"s":"CS"},
{"panel":"bot","t":3.636,"v":0.2222,"s":"ES"},
{"panel":"bot","t":-8.364,"v":0.0944,"s":"0.2"},
{"panel":"bot","t":-8.364,"v":-0.0611,"s":"RU"},
{"panel":"bot","t":0.909,"v":-0.4056,"s":"10 sec"},
{"panel":"bot","t":19.273,"v":-0.6722,"s":"Figure 4a"}
],
"bars":[
{"panel":"top","kind":"scale","t":-2.727,"t2":-2.727,"v":0.3357,"v2":0.1357},
{"panel":"top","kind":"artifact","t":0,"t2":0,"v":0.6857,"v2":-0.1857},
{"panel":"bot","kind":"scale","t":-1.818,"t2":-1.818,"v":0.2111,"v2":0.0111},
{"panel":"bot","kind":"scale","t":1,"t2":11,"v":-0.2167,"v2":-0.2167}
]
},
"resolve":{"scale":{"y":"independent"}},
"layer":[
{"layer":[
{"data":{"name":"top"},"mark":{"type":"area","color":"#000000","stroke":"#000000","strokeWidth":0.5,"interpolate":"linear"},
"encoding":{"x":{"field":"t","type":"quantitative","scale":{"domain":[-8.3636,63.6364]},"axis":null},
"y":{"field":"hi","type":"quantitative","scale":{"domain":[-2.28571,0.97143]},"axis":null},
"y2":{"field":"lo"}}},
{"data":{"name":"bars"},"transform":[{"filter":"datum.panel==='top' && datum.kind==='scale'"}],"mark":{"type":"rule","color":"#000000","strokeWidth":3},
"encoding":{"x":{"field":"t","type":"quantitative","scale":{"domain":[-8.3636,63.6364]},"axis":null},"x2":{"field":"t2"},
"y":{"field":"v","type":"quantitative","scale":{"domain":[-2.28571,0.97143]},"axis":null},"y2":{"field":"v2"}}},
{"data":{"name":"bars"},"transform":[{"filter":"datum.panel==='top' && datum.kind==='artifact'"}],"mark":{"type":"rule","color":"#000000","strokeWidth":1.2},
"encoding":{"x":{"field":"t","type":"quantitative","scale":{"domain":[-8.3636,63.6364]},"axis":null},"x2":{"field":"t2"},
"y":{"field":"v","type":"quantitative","scale":{"domain":[-2.28571,0.97143]},"axis":null},"y2":{"field":"v2"}}},
{"data":{"name":"lab"},"transform":[{"filter":"datum.panel==='top'"}],"mark":{"type":"text","align":"left","baseline":"alphabetic"},
"encoding":{"x":{"field":"t","type":"quantitative","scale":{"domain":[-8.3636,63.6364]},"axis":null},
"y":{"field":"v","type":"quantitative","scale":{"domain":[-2.28571,0.97143]},"axis":null},
"text":{"field":"s"}}}
]},
{"layer":[
{"data":{"name":"bot"},"mark":{"type":"area","color":"#000000","stroke":"#000000","strokeWidth":0.5,"interpolate":"linear"},
"encoding":{"x":{"field":"t","type":"quantitative","scale":{"domain":[-8.3636,63.6364]},"axis":null},
"y":{"field":"hi","type":"quantitative","scale":{"domain":[-0.73333,1.8]},"axis":null},
"y2":{"field":"lo"}}},
{"data":{"name":"bars"},"transform":[{"filter":"datum.panel==='bot'"}],"mark":{"type":"rule","color":"#000000","strokeWidth":3},
"encoding":{"x":{"field":"t","type":"quantitative","scale":{"domain":[-8.3636,63.6364]},"axis":null},"x2":{"field":"t2"},
"y":{"field":"v","type":"quantitative","scale":{"domain":[-0.73333,1.8]},"axis":null},"y2":{"field":"v2"}}},
{"data":{"name":"lab"},"transform":[{"filter":"datum.panel==='bot'"}],"mark":{"type":"text","align":"left","baseline":"alphabetic"},
"encoding":{"x":{"field":"t","type":"quantitative","scale":{"domain":[-8.3636,63.6364]},"axis":null},
"y":{"field":"v","type":"quantitative","scale":{"domain":[-0.73333,1.8]},"axis":null},
"text":{"field":"s"}}}
]}
]
}
